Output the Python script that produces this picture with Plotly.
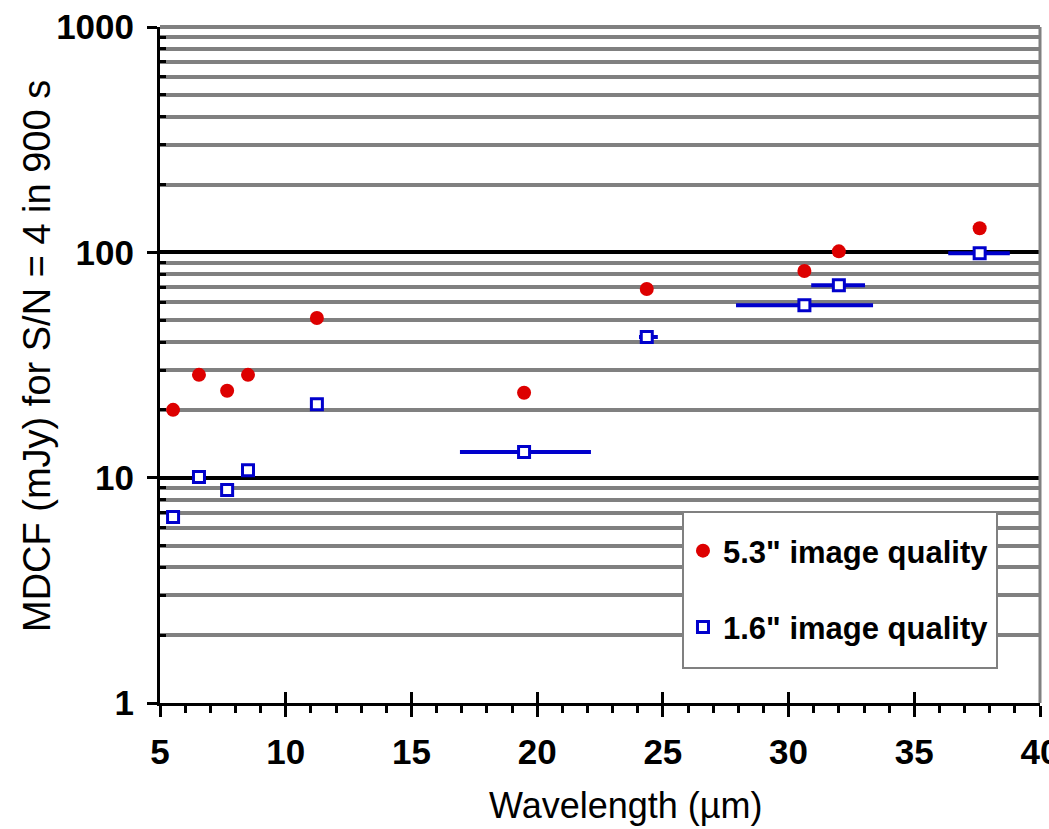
import plotly.graph_objects as go

# ---- data ----
wavelength = [5.52, 6.55, 7.67, 8.5, 11.24, 19.48, 24.36, 30.63, 32.0, 37.6]
mdcf_53 = [20.0, 28.6, 24.3, 28.6, 51.1, 23.8, 68.8, 82.6, 101.0, 128.0]
mdcf_16 = [6.69, 10.07, 8.82, 10.8, 21.2, 13.0, 42.1, 58.3, 71.5, 99.0]
band_lo = [5.52, 6.55, 7.67, 8.5, 11.24, 16.93, 24.05, 27.91, 30.9, 36.35]
band_hi = [5.52, 6.55, 7.67, 8.5, 11.24, 22.14, 24.8, 33.36, 33.04, 38.8]

x_ticks = [5, 10, 15, 20, 25, 30, 35, 40]
x_ticktext = ["5", "10", "15", "20", "25", "30", "35", "40"]
y_ticks = [1, 10, 100, 1000]
y_ticktext = ["1", "10", "100", "1000"]
y_minor = [m * d for d in (1, 10, 100) for m in range(2, 10)]

err_plus = [h - w for h, w in zip(band_hi, wavelength)]
err_minus = [w - l for w, l in zip(wavelength, band_lo)]

RED = "#DD0000"
BLUE = "#0000CC"
GRAY = "#808080"
FONT = "Liberation Sans, Arial, sans-serif"

fig = go.Figure()
fig.add_trace(go.Scatter(
    x=wavelength, y=mdcf_53, mode="markers", name='5.3" image quality',
    legendgroup="a",
    marker=dict(symbol="circle", size=14, color=RED, line=dict(width=0)),
))
fig.add_trace(go.Scatter(
    x=wavelength, y=mdcf_16, mode="markers", name='1.6" image quality',
    legendgroup="b",
    marker=dict(symbol="square", size=11, color="white", line=dict(width=3, color=BLUE)),
    error_x=dict(type="data", symmetric=False, array=err_plus, arrayminus=err_minus,
                 thickness=4, width=0, color=BLUE),
))
# empty trace so the overlay axis (inside half of crossing ticks) is drawn
fig.add_trace(go.Scatter(x=[], y=[], xaxis="x2", showlegend=False, hoverinfo="skip"))

tickfont = dict(family=FONT, size=35, color="black", weight="bold")

fig.update_layout(
    width=1049, height=829,
    margin=dict(l=160, r=9, t=27, b=126, autoexpand=False),
    paper_bgcolor="white", plot_bgcolor="white",
    showlegend=True,
    legend=dict(
        x=0.5943, y=(703 - 524) / 676, xanchor="left", yanchor="top",
        bgcolor="rgba(0,0,0,0)", borderwidth=0,
        font=dict(family=FONT, size=31, color="black", weight="bold"),
        traceorder="grouped", tracegroupgap=33,
    ),
    xaxis=dict(
        range=[5, 40], tickmode="array", tickvals=x_ticks, ticktext=x_ticktext,
        showgrid=False, zeroline=False, automargin=False,
        showline=True, linecolor="black", linewidth=3,
        ticks="outside", ticklen=11, tickwidth=3, tickcolor="black",
        ticklabelstandoff=5, ticklabeloverflow="allow",
        tickfont=tickfont,
        minor=dict(dtick=1, tick0=5, ticks="outside", ticklen=7, tickwidth=3,
                   tickcolor="black", showgrid=False),
    ),
    xaxis2=dict(
        overlaying="x", anchor="y", side="bottom", range=[5, 40],
        tickmode="array", tickvals=x_ticks, showticklabels=False, automargin=False,
        showgrid=False, zeroline=False, showline=False,
        ticks="inside", ticklen=11, tickwidth=3, tickcolor="black",
    ),
    yaxis=dict(
        type="log", range=[0, 3], tickmode="array", tickvals=y_ticks, ticktext=y_ticktext,
        showgrid=True, gridcolor="black", gridwidth=4, automargin=False,
        showline=True, linecolor="black", linewidth=3,
        ticks="outside", ticklen=10, tickwidth=3, tickcolor="black",
        ticklabelstandoff=6,
        tickfont=tickfont,
        minor=dict(tickmode="array", tickvals=y_minor, ticks="inside", ticklen=6,
                   tickwidth=3, tickcolor="black",
                   showgrid=True, gridcolor=GRAY, gridwidth=4),
    ),
    annotations=[
        dict(text="MDCF (mJy) for S/N = 4 in 900 s", textangle=-90,
             xref="paper", yref="paper", x=(37 - 160) / 880, y=(703 - 356) / 676,
             xanchor="center", yanchor="middle", showarrow=False,
             font=dict(family=FONT, size=38, color="black")),
        dict(text="Wavelength (µm)",
             xref="paper", yref="paper", x=(625 - 160) / 880, y=(703 - 805) / 676,
             xanchor="center", yanchor="middle", showarrow=False,
             font=dict(family=FONT, size=36, color="black")),
    ],
    shapes=[
        dict(type="line", xref="paper", yref="paper", x0=0, x1=1, y0=1, y1=1,
             line=dict(color=GRAY, width=4), layer="above"),
        dict(type="line", xref="paper", yref="paper", x0=1, x1=1, y0=0, y1=1,
             line=dict(color=GRAY, width=3), layer="above"),
        # legend frame
        dict(type="rect", xref="paper", yref="paper",
             x0=(683 - 160) / 880, x1=(997 - 160) / 880,
             y0=(703 - 668) / 676, y1=(703 - 512) / 676,
             fillcolor="white", line=dict(color=GRAY, width=2), layer="above"),
    ],
)

fig.write_html("out.html")
